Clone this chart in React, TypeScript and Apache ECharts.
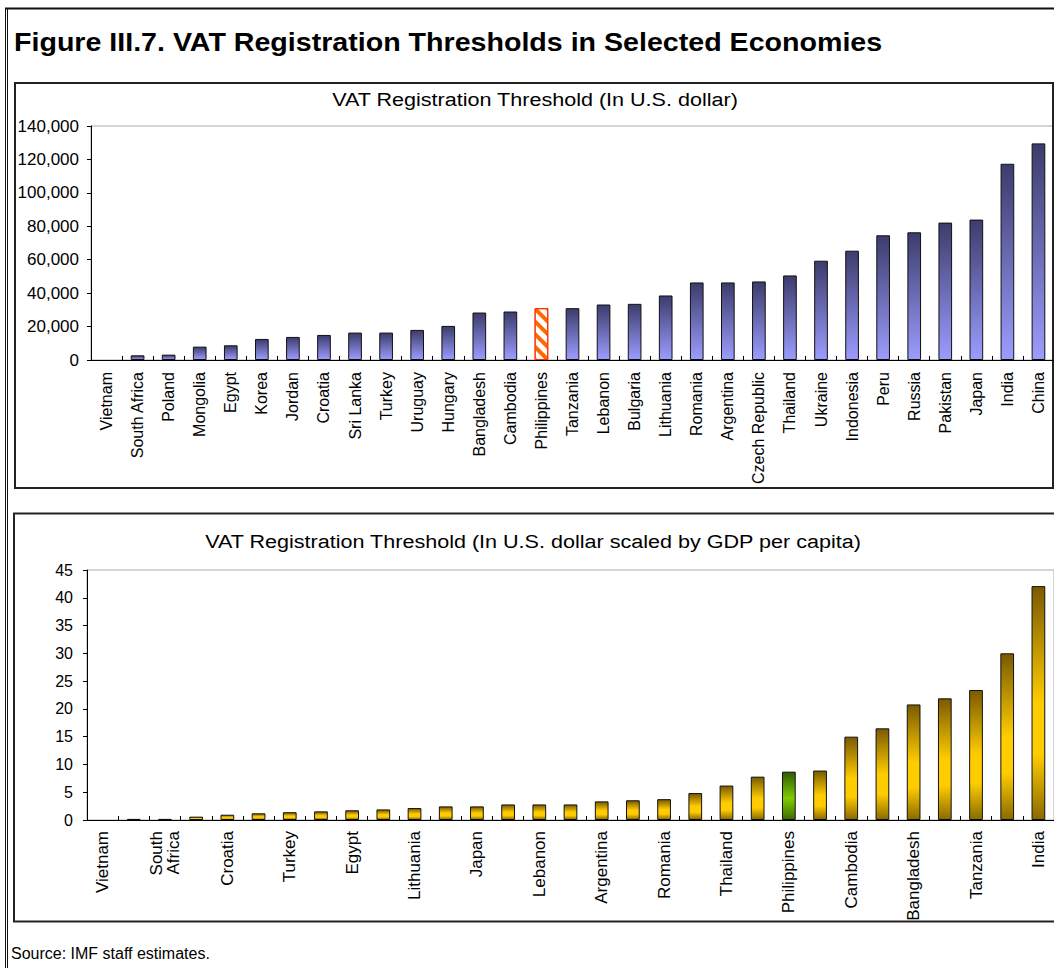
import React, { useEffect, useRef } from 'react';
import * as echarts from 'echarts';

const FONT = '"Liberation Sans", Arial, sans-serif';

const mainTitle = 'Figure III.7. VAT Registration Thresholds in Selected Economies';
const topTitle = 'VAT Registration Threshold (In U.S. dollar)';
const bottomTitle = 'VAT Registration Threshold (In U.S. dollar scaled by GDP per capita)';
const sourceNote = 'Source: IMF staff estimates.';

const topCategories = [
  'Vietnam', 'South Africa', 'Poland', 'Mongolia', 'Egypt', 'Korea', 'Jordan', 'Croatia',
  'Sri Lanka', 'Turkey', 'Uruguay', 'Hungary', 'Bangladesh', 'Cambodia', 'Philippines',
  'Tanzania', 'Lebanon', 'Bulgaria', 'Lithuania', 'Romania', 'Argentina', 'Czech Republic',
  'Thailand', 'Ukraine', 'Indonesia', 'Peru', 'Russia', 'Pakistan', 'Japan', 'India', 'China',
];
const topValues = [
  0, 2800, 3200, 8000, 8800, 12600, 13800, 15000, 16400, 16400, 18000, 20400, 28400, 29000,
  31000, 31000, 33200, 33600, 38600, 46400, 46400, 47000, 50600, 59400, 65400, 74600, 76400,
  82200, 84000, 117400, 129600,
];
const topYMin = 0;
const topYMax = 140000;
const topYStep = 20000;

// Every other category is labelled in the reference; unlabelled names are best guesses.
const bottomCategories = [
  'Vietnam', 'Poland', 'South Africa', 'Korea', 'Croatia', 'Hungary', 'Turkey', 'Uruguay',
  'Egypt', 'Czech Republic', 'Lithuania', 'Bulgaria', 'Japan', 'Mongolia', 'Lebanon', 'Jordan',
  'Argentina', 'Russia', 'Romania', 'Sri Lanka', 'Thailand', 'Peru', 'Philippines', 'Ukraine',
  'Cambodia', 'Indonesia', 'Bangladesh', 'China', 'Tanzania', 'Pakistan', 'India',
];
const bottomValues = [
  0, 0.2, 0.2, 0.6, 0.95, 1.2, 1.4, 1.55, 1.75, 1.9, 2.15, 2.45, 2.45, 2.8, 2.8, 2.8,
  3.35, 3.55, 3.75, 4.85, 6.2, 7.8, 8.7, 8.9, 15.0, 16.5, 20.8, 21.9, 23.4, 30.0, 42.1,
];
const bottomYMin = 0;
const bottomYMax = 45;
const bottomYStep = 5;

const highlight = 'Philippines';

export default function App() {
  const ref = useRef<HTMLDivElement>(null);

  useEffect(() => {
    const chart = echarts.init(ref.current!, null, { renderer: 'svg' });
    const LG = echarts.graphic.LinearGradient;

    const blue = new LG(0, 0, 0, 1, [
      { offset: 0, color: '#3c3c6c' },
      { offset: 1, color: '#9c9cff' },
    ]);
    const gold = () =>
      new LG(0, 0, 0, 1, [
        { offset: 0, color: '#7a5a00' },
        { offset: 0.5, color: '#ffcc00' },
        { offset: 0.72, color: '#ffcc00' },
        { offset: 1, color: '#8a6a00' },
      ]);
    const green = new LG(0, 0, 0, 1, [
      { offset: 0, color: '#2f5a00' },
      { offset: 0.55, color: '#80cc00' },
      { offset: 1, color: '#3f6c00' },
    ]);

    const topData = topValues.map((v, i) =>
      topCategories[i] === highlight
        ? {
            value: v,
            itemStyle: {
              color: '#ffffff',
              borderColor: '#ff2a00',
              borderWidth: 1,
              decal: {
                symbol: 'rect',
                color: '#ff6a00',
                dashArrayX: [1, 0],
                dashArrayY: [4, 5],
                rotation: Math.PI / 4,
              },
            },
          }
        : { value: v, itemStyle: { borderWidth: v === 0 ? 0 : 1 } }
    );
    const bottomData = bottomValues.map((v, i) =>
      bottomCategories[i] === highlight
        ? { value: v, itemStyle: { color: green } }
        : { value: v, itemStyle: { color: gold(), borderWidth: v === 0 ? 0 : 1 } }
    );

    const axisText = { color: '#000', fontFamily: FONT, fontSize: 16 };

    const yAxisBase = {
      type: 'value' as const,
      axisLine: { show: true, lineStyle: { color: '#000', width: 1 } },
      axisTick: { show: true, length: 4, inside: false, lineStyle: { color: '#000' } },
      splitLine: { show: false },
    };
    const xAxisBase = {
      type: 'category' as const,
      axisLine: { show: true, lineStyle: { color: '#000', width: 1 } },
      axisTick: { show: true, inside: true, length: 4, interval: 0, lineStyle: { color: '#000' } },
      splitLine: { show: false },
    };

    const textEl = (
      text: string,
      x: number,
      y: number,
      fontSize: number,
      align: string,
      scaleX: number,
      fontWeight = 'normal'
    ) => ({
      type: 'text',
      x,
      y,
      scaleX,
      style: {
        text,
        fill: '#000',
        fontFamily: FONT,
        fontSize,
        fontWeight,
        textAlign: align,
        textVerticalAlign: 'middle',
      },
    });

    const option: any = {
      animation: false,
      backgroundColor: '#ffffff',
      grid: [
        { left: 91, top: 126, right: 0, height: 234, show: true, borderColor: '#aaaaaa', borderWidth: 1 },
        { left: 87, top: 570, right: 0, height: 250, show: true, borderColor: '#aaaaaa', borderWidth: 1 },
      ],
      xAxis: [
        {
          ...xAxisBase,
          gridIndex: 0,
          data: topCategories,
          axisLabel: { ...axisText, interval: 0, rotate: 90, margin: 12 },
        },
        {
          ...xAxisBase,
          gridIndex: 1,
          data: bottomCategories,
          axisLabel: {
            ...axisText,
            fontSize: 17,
            interval: 1,
            rotate: 90,
            margin: 11,
            lineHeight: 17,
            formatter: (v: string) => v.replace(' ', '\n'),
          },
        },
      ],
      yAxis: [
        {
          ...yAxisBase,
          gridIndex: 0,
          min: topYMin,
          max: topYMax,
          interval: topYStep,
          axisLabel: {
            ...axisText,
            fontSize: 17,
            margin: 12,
            formatter: (v: number) => v.toLocaleString('en-US'),
          },
        },
        {
          ...yAxisBase,
          gridIndex: 1,
          min: bottomYMin,
          max: bottomYMax,
          interval: bottomYStep,
          axisLabel: { ...axisText, margin: 14 },
        },
      ],
      series: [
        {
          type: 'bar',
          xAxisIndex: 0,
          yAxisIndex: 0,
          data: topData,
          barWidth: '44%',
          itemStyle: { color: blue, borderColor: '#111', borderWidth: 1 },
        },
        {
          type: 'bar',
          xAxisIndex: 1,
          yAxisIndex: 1,
          data: bottomData,
          barWidth: '44%',
          itemStyle: { borderColor: '#111', borderWidth: 1 },
        },
      ],
      graphic: [
        { type: 'line', shape: { x1: 5.5, y1: 8, x2: 5.5, y2: 968 }, style: { stroke: '#111', lineWidth: 1 } },
        { type: 'line', shape: { x1: 7.5, y1: 8, x2: 7.5, y2: 968 }, style: { stroke: '#111', lineWidth: 1 } },
        { type: 'line', shape: { x1: 5, y1: 8.5, x2: 1054, y2: 8.5 }, style: { stroke: '#111', lineWidth: 2 } },
        {
          type: 'rect',
          shape: { x: 15, y: 83, width: 1038, height: 405 },
          style: { fill: 'none', stroke: '#222', lineWidth: 2 },
        },
        {
          type: 'rect',
          shape: { x: 14, y: 513.5, width: 1060, height: 408 },
          style: { fill: 'none', stroke: '#222', lineWidth: 2 },
        },
        textEl(mainTitle, 14, 42, 26, 'left', 1.1, 'bold'),
        textEl(topTitle, 535, 99, 19, 'center', 1.135),
        textEl(bottomTitle, 533, 541, 19, 'center', 1.135),
        textEl(sourceNote, 11, 953, 16, 'left', 1),
      ],
    };

    chart.setOption(option);
    return () => chart.dispose();
  }, []);

  return (
    <div
      ref={ref}
      style={{ position: 'absolute', left: 0, top: 0, width: 1054, height: 968, background: '#fff' }}
    />
  );
}
